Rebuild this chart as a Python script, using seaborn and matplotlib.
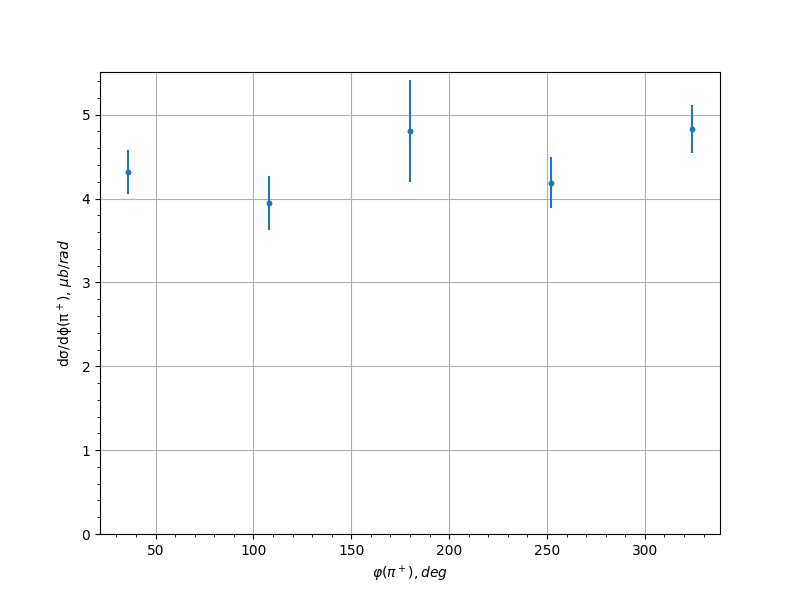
import matplotlib
matplotlib.use('Agg')
import matplotlib.pyplot as plt
import seaborn as sns
import pandas as pd

# dados
phi_deg = [36, 108, 180, 252, 324]
dsigma = [4.32, 3.95, 4.81, 4.19, 4.83]
erro = [0.26, 0.32, 0.61, 0.30, 0.29]

df = pd.DataFrame({'phi': phi_deg, 'dsigma': dsigma, 'erro': erro})

fig, ax = plt.subplots(figsize=(8, 6), dpi=100)
ax.errorbar(df['phi'], df['dsigma'], yerr=df['erro'], fmt='none', ecolor='C0', elinewidth=1.5)
sns.scatterplot(data=df, x='phi', y='dsigma', ax=ax, color='C0', s=18, linewidth=0, zorder=3)

ax.set_ylim(bottom=0)
ax.minorticks_on()
ax.grid(True, which='major')
ax.set_axisbelow(True)
ax.set_xlabel(r'$\varphi(\pi^+), deg$')
ax.set_ylabel(r'dσ/dϕ(π$^+$), $\mu b/rad$')

plt.savefig('out.png', dpi=100)
plt.close()
